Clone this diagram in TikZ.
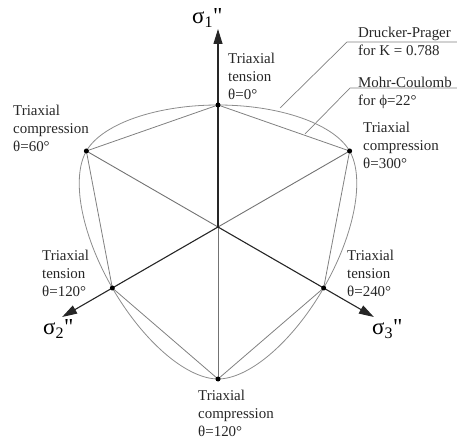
\documentclass[tikz,border=0pt]{standalone}
\usepackage{fontspec}
\setmainfont{Liberation Serif}
\newfontfamily\sigfont[Ligatures=TeXOff]{Liberation Serif}
\usetikzlibrary{arrows.meta, math, calc}

\begin{document}
\begin{tikzpicture}[x=1bp, y=1bp,
  axisline/.style={line width=1.1bp, black!85, -{Triangle[length=15bp,width=9bp]}},
  spoke/.style={line width=0.9bp, black!55},
  mcline/.style={line width=0.8bp, black!50},
  dpline/.style={line width=0.8bp, black!45},
  leader/.style={line width=0.7bp, black!50},
  lbl/.style={anchor=north west, inner sep=0pt, align=left, font=\fontsize{15}{18.5}\selectfont, text=black!85},
  axlbl/.style={anchor=base west, inner sep=0pt, font=\sigfont\fontsize{23}{23}\selectfont},
  dot/.style={circle, fill=black, inner sep=0pt, minimum size=5bp},
  declare function={
    tang(\x)=min(mod(\x+270,120),120-mod(\x+270,120));
    ww(\x)=(2*(1-\kr*\kr)*cos(\x)+(2*\kr-1)*sqrt(4*(1-\kr*\kr)*cos(\x)*cos(\x)+5*\kr*\kr-4*\kr))/(4*(1-\kr*\kr)*cos(\x)*cos(\x)+(1-2*\kr)*(1-2*\kr));
  }]
\tikzmath{
\rT=122;
\rC=152;
\kr=\rT/\rC;
}
\useasboundingbox (-218,-213) rectangle (239,227);

 \coordinate (O) at (0,0);
 \coordinate (T0) at (90:\rT);
 \coordinate (C60) at (150:\rC);
 \coordinate (T120) at (210:\rT);
 \coordinate (Cb) at (270:\rC);
 \coordinate (T240) at (330:\rT);
 \coordinate (C300) at (30:\rC);
 \coordinate (S1) at (90:198);
 \coordinate (S2) at (210:180);
 \coordinate (S3) at (330:180);

 %Drucker-Prager:
 \draw[dpline] plot[domain=0:360, samples=241] (\x:{\rC*ww(tang(\x))}) -- cycle;

 %Mohr-Coulomb:
 \draw[mcline] (T0) -- (C60) -- (T120) -- (Cb) -- (T240) -- (C300) -- cycle;
 \draw[spoke] (O) -- (C60);
 \draw[spoke] (O) -- (C300);
 \draw[spoke] (O) -- (Cb);

 %axes:
 \draw[axisline] (O) -- (S1);
 \draw[axisline] (O) -- (S2);
 \draw[axisline] (O) -- (S3);
 \node[axlbl] (s1lbl) at (-26,203) {σ\textsubscript{1}"};
 \node[axlbl] (s2lbl) at (-175,-108) {σ\textsubscript{2}"};
 \node[axlbl] (s3lbl) at (154,-108) {σ\textsubscript{3}"};

 \foreach \v in {T0,C60,T120,Cb,T240,C300}
   \node[dot] (d\v) at (\v) {};

 \node[lbl] (lblT0) at (10,174.5) {Triaxial\\tension\\θ=0°};
 \node[lbl] (lblC60) at (-205,122.5) {Triaxial\\compression\\θ=60°};
 \node[lbl] (lblC300) at (145,105.5) {Triaxial\\compression\\θ=300°};
 \node[lbl] (lblT120) at (-176,-22.5) {Triaxial\\tension\\θ=120°};
 \node[lbl] (lblT240) at (129,-22.5) {Triaxial\\tension\\θ=240°};
 \node[lbl] (lblCb) at (-20,-162.5) {Triaxial\\compression\\θ=120°};

 %leaders:
 \coordinate (dpA) at (62,119);
 \coordinate (dpB) at (129,185);
 \coordinate (dpC) at (239,185);
 \coordinate (mcA) at (87,93);
 \coordinate (mcB) at (132,139);
 \coordinate (mcC) at (239,139);
 \draw[leader] (dpA) -- (dpB) -- (dpC);
 \draw[leader] (mcA) -- (mcB) -- (mcC);
 \node[lbl] (lblDP) at (140,200.5) {Drucker-Prager\\for K = 0.788};
 \node[lbl] (lblMC) at (140,150.5) {Mohr-Coulomb\\for ϕ=22°};
\end{tikzpicture}
\end{document}
